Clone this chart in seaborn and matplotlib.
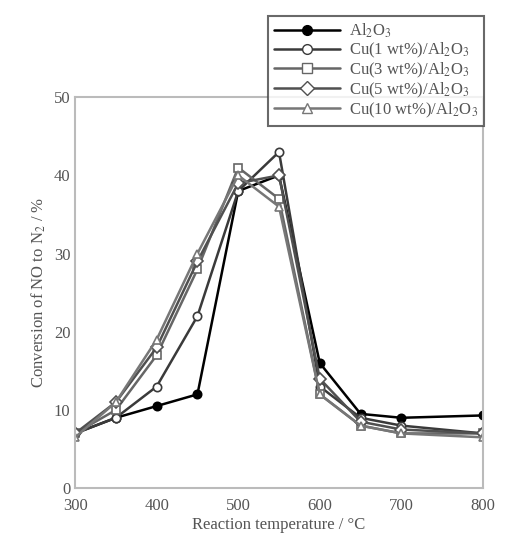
import matplotlib
matplotlib.use("Agg")
import matplotlib.pyplot as plt
import seaborn as sns
import pandas as pd
from matplotlib.lines import Line2D

temps = [300, 350, 400, 450, 500, 550, 600, 650, 700, 800]
al2o3 = [7, 9, 10.5, 12, 38, 40, 16, 9.5, 9, 9.3]
cu1 = [7, 9, 13, 22, 38, 43, 13, 9, 8, 7]
cu3 = [7, 10, 17, 28, 41, 37, 12, 8, 7, 7]
cu5 = [7, 11, 18, 29, 39, 40, 14, 8.5, 7.5, 7]
cu10 = [6.5, 11, 19, 30, 40, 36, 12, 8, 7, 6.5]
labels = ["Al$_2$O$_3$", "Cu(1 wt%)/Al$_2$O$_3$", "Cu(3 wt%)/Al$_2$O$_3$",
          "Cu(5 wt%)/Al$_2$O$_3$", "Cu(10 wt%)/Al$_2$O$_3$"]
series = [al2o3, cu1, cu3, cu5, cu10]

rows = []
for lab, vals in zip(labels, series):
    for t, v in zip(temps, vals):
        rows.append({"T": t, "conv": v, "cat": lab})
df = pd.DataFrame(rows)

sns.set_theme(style="white")
plt.rcParams['font.family'] = ['Liberation Serif', 'DejaVu Serif']
plt.rcParams['mathtext.fontset'] = 'stix'

fig = plt.figure(figsize=(5.11, 5.43), dpi=100)
ax = fig.add_axes([0.147, 0.101, 0.798, 0.72])

markers = {labels[0]: "o", labels[1]: "o", labels[2]: "s", labels[3]: "D", labels[4]: "^"}
colors = ["black", "#3a3a3a", "#666666", "#505050", "#777777"]
pal = dict(zip(labels, colors))
sns.lineplot(data=df, x="T", y="conv", hue="cat", style="cat", markers=markers,
             dashes=False, palette=pal, ax=ax, linewidth=1.8, markersize=6,
             legend=False)
for line, lab, c in zip(ax.lines, labels, colors):
    line.set_markeredgecolor(c)
    if lab != labels[0]:
        line.set_markerfacecolor("white")
    line.set_markeredgewidth(1.2)

ax.set_xlim(300, 800)
ax.set_ylim(0, 50)
ax.set_xticks([300, 400, 500, 600, 700, 800])
ax.set_yticks([0, 10, 20, 30, 40, 50])
ax.tick_params(axis="both", direction="in", length=4, labelsize=12, colors="#555555")
ax.tick_params(axis="x", pad=7)
for s in ax.spines.values():
    s.set_color("#bbbbbb")
    s.set_linewidth(1.5)
ax.set_xlabel("Reaction temperature / °C", fontsize=12, color="#555555", labelpad=2)
ax.set_ylabel("Conversion of NO to N$_2$ / %", fontsize=12, color="#555555", labelpad=4)

handles = [Line2D([], [], color=c, marker=markers[l], markersize=7, linewidth=1.8,
                  markeredgecolor=c,
                  markerfacecolor=("black" if l == labels[0] else "white"))
           for l, c in zip(labels, colors)]
leg = fig.legend(handles, labels, loc="upper left", bbox_to_anchor=(0.508, 0.986),
                 fontsize=12, frameon=True, fancybox=False, handlelength=4.0,
                 labelspacing=0.04, borderpad=0.35, handletextpad=0.5)
leg.get_frame().set_edgecolor("#444444")
leg.get_frame().set_linewidth(1.5)
for t in leg.get_texts():
    t.set_color("#555555")

fig.savefig("out.png", dpi=100)
